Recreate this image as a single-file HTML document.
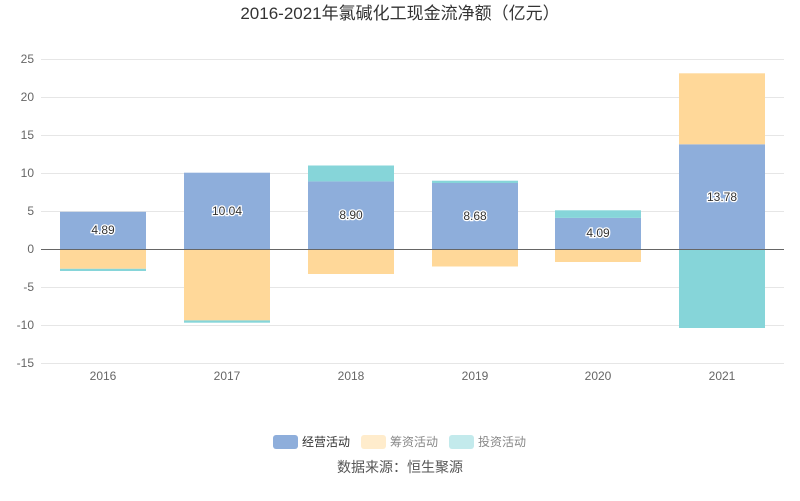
<!DOCTYPE html>
<html><head><meta charset="utf-8"><style>body{margin:0;background:#fff}svg{display:block}text{font-family:"Liberation Sans","Noto Sans CJK SC",sans-serif}</style></head><body>
<svg width="800" height="501" viewBox="0 0 800 501">
<text x="400" y="19" text-anchor="middle" font-size="17" fill="#333">2016-2021年氯碱化工现金流净额（亿元）</text>
<g stroke="#e6e6e6" stroke-width="1">
<line x1="41" x2="784" y1="59.5" y2="59.5"/><line x1="41" x2="784" y1="97.5" y2="97.5"/><line x1="41" x2="784" y1="135.5" y2="135.5"/><line x1="41" x2="784" y1="173.5" y2="173.5"/><line x1="41" x2="784" y1="211.5" y2="211.5"/><line x1="41" x2="784" y1="287.5" y2="287.5"/><line x1="41" x2="784" y1="325.5" y2="325.5"/><line x1="41" x2="784" y1="363.5" y2="363.5"/>
</g>
<g font-size="12" fill="#666" text-anchor="end">
<text x="34" y="63">25</text><text x="34" y="101">20</text><text x="34" y="139">15</text><text x="34" y="177">10</text><text x="34" y="215">5</text><text x="34" y="253">0</text><text x="34" y="291">-5</text><text x="34" y="329">-10</text><text x="34" y="367">-15</text>
</g>
<g>
<rect x="60" y="211.8" width="86" height="37.2" fill="#8eaedb"/><rect x="60" y="249" width="86" height="19.8" fill="#ffd899"/><rect x="60" y="268.8" width="86" height="2.2" fill="#86d5d9"/>
<rect x="184" y="172.7" width="86" height="76.3" fill="#8eaedb"/><rect x="184" y="249" width="86" height="71.4" fill="#ffd899"/><rect x="184" y="320.4" width="86" height="2.3" fill="#86d5d9"/>
<rect x="308" y="181.4" width="86" height="67.6" fill="#8eaedb"/><rect x="308" y="165.5" width="86" height="15.9" fill="#86d5d9"/><rect x="308" y="249" width="86" height="25" fill="#ffd899"/>
<rect x="432" y="183" width="86" height="66" fill="#8eaedb"/><rect x="432" y="180.7" width="86" height="2.3" fill="#86d5d9"/><rect x="432" y="249" width="86" height="17.5" fill="#ffd899"/>
<rect x="555" y="217.9" width="86" height="31.1" fill="#8eaedb"/><rect x="555" y="210.3" width="86" height="7.6" fill="#86d5d9"/><rect x="555" y="249" width="86" height="13" fill="#ffd899"/>
<rect x="679" y="144.3" width="86" height="104.7" fill="#8eaedb"/><rect x="679" y="73.3" width="86" height="71" fill="#ffd899"/><rect x="679" y="249" width="86" height="79" fill="#86d5d9"/>
</g>
<line x1="41" x2="784" y1="249.5" y2="249.5" stroke="#666"/>
<g font-size="12" fill="#333" stroke="#fff" stroke-width="2.5" paint-order="stroke" text-anchor="middle">
<text x="103" y="234">4.89</text><text x="227" y="215">10.04</text><text x="351" y="219">8.90</text><text x="475" y="220">8.68</text><text x="598" y="237">4.09</text><text x="722" y="201">13.78</text>
</g>
<g font-size="12" fill="#666" text-anchor="middle">
<text x="103" y="380">2016</text><text x="227" y="380">2017</text><text x="351" y="380">2018</text><text x="475" y="380">2019</text><text x="598" y="380">2020</text><text x="722" y="380">2021</text>
</g>
<g font-size="12">
<rect x="273" y="435" width="25" height="14" rx="3" fill="#8eaedb"/><text x="302" y="446" fill="#333">经营活动</text>
<rect x="361" y="435" width="25" height="14" rx="3" fill="#ffeccc"/><text x="390" y="446" fill="#888">筹资活动</text>
<rect x="449" y="435" width="25" height="14" rx="3" fill="#c3eaec"/><text x="478" y="446" fill="#888">投资活动</text>
</g>
<text x="400" y="472" text-anchor="middle" font-size="14" fill="#555">数据来源：恒生聚源</text>
</svg>
</body></html>
